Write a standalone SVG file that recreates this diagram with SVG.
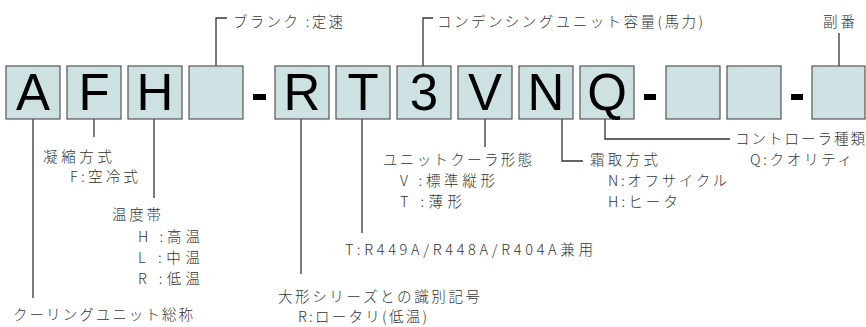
<svg xmlns="http://www.w3.org/2000/svg" width="866" height="327" viewBox="0 0 866 327">
<style>
.box{fill:#cde0e2;stroke:#555;stroke-width:1.2}
.ch{font-family:"Liberation Sans",Arial,sans-serif;font-size:51px;fill:#000;text-anchor:middle}
.t{font-family:"Noto Sans CJK JP","Noto Sans",sans-serif;font-size:14.5px;fill:#333;font-weight:300}
.ln{fill:none;stroke:#333;stroke-width:1.3}
.dash{fill:#000}
</style>
<rect width="866" height="327" fill="#fff"/>
<g id="connectors">
<path class="ln" d="M216,66V18H227"/>
<path class="ln" d="M423,66V18H433"/>
<path class="ln" d="M839,66V33"/>
<path class="ln" d="M33,119V298"/>
<path class="ln" d="M94,119V137"/>
<path class="ln" d="M154,119V198"/>
<path class="ln" d="M301,119V274"/>
<path class="ln" d="M362,119V233"/>
<path class="ln" d="M485,119V147"/>
<path class="ln" d="M562,119V161H583"/>
<path class="ln" d="M605,119V139H730"/>
</g>
<g id="dashes">
<rect class="dash" x="253" y="94" width="13" height="6"/>
<rect class="dash" x="644" y="94" width="12" height="6"/>
<rect class="dash" x="791" y="94" width="12" height="6"/>
</g>
<g id="box-A"><rect class="box" x="6" y="66" width="54" height="53"/><text class="ch" x="33" y="110">A</text></g>
<g id="box-F"><rect class="box" x="67" y="66" width="54" height="53"/><text class="ch" x="94" y="110">F</text></g>
<g id="box-H"><rect class="box" x="128" y="66" width="54" height="53"/><text class="ch" x="155" y="110">H</text></g>
<g id="box-blank1"><rect class="box" x="189" y="66" width="54" height="53"/></g>
<g id="box-R"><rect class="box" x="275" y="66" width="54" height="53"/><text class="ch" x="302" y="110">R</text></g>
<g id="box-T"><rect class="box" x="336" y="66" width="54" height="53"/><text class="ch" x="363" y="110">T</text></g>
<g id="box-3"><rect class="box" x="397" y="66" width="54" height="53"/><text class="ch" x="424" y="110">3</text></g>
<g id="box-V"><rect class="box" x="458" y="66" width="54" height="53"/><text class="ch" x="485" y="110">V</text></g>
<g id="box-N"><rect class="box" x="519" y="66" width="54" height="53"/><text class="ch" x="546" y="110">N</text></g>
<g id="box-Q"><rect class="box" x="580" y="66" width="54" height="53"/><text class="ch" x="607" y="110">Q</text></g>
<g id="box-blank2"><rect class="box" x="666" y="66" width="54" height="53"/></g>
<g id="box-blank3"><rect class="box" x="727" y="66" width="54" height="53"/></g>
<g id="box-blank4"><rect class="box" x="812" y="66" width="53" height="53"/></g>
<g id="labels">
<text class="t" x="233" y="27" textLength="110" lengthAdjust="spacing">ブランク :定速</text>
<text class="t" x="437" y="27" textLength="266" lengthAdjust="spacing">コンデンシングユニット容量(馬力)</text>
<text class="t" x="823" y="27" textLength="32" lengthAdjust="spacing">副番</text>
<text class="t" x="43" y="162" textLength="69" lengthAdjust="spacing">凝縮方式</text>
<text class="t" x="70" y="182" textLength="68" lengthAdjust="spacing">F:空冷式</text>
<text class="t" x="112" y="220" textLength="49" lengthAdjust="spacing">温度帯</text>
<text class="t" x="138" y="242" textLength="62" lengthAdjust="spacing">H :高温</text>
<text class="t" x="138" y="263" textLength="62" lengthAdjust="spacing">L :中温</text>
<text class="t" x="138" y="284" textLength="62" lengthAdjust="spacing">R :低温</text>
<text class="t" x="13" y="320" textLength="180" lengthAdjust="spacing">クーリングユニット総称</text>
<text class="t" x="383" y="165" textLength="149" lengthAdjust="spacing">ユニットクーラ形態</text>
<text class="t" x="400" y="186" textLength="95" lengthAdjust="spacing">V :標準縦形</text>
<text class="t" x="400" y="207" textLength="62" lengthAdjust="spacing">T :薄形</text>
<text class="t" x="345" y="255" textLength="248" lengthAdjust="spacing">T:R449A/R448A/R404A兼用</text>
<text class="t" x="278" y="302" textLength="202" lengthAdjust="spacing">大形シリーズとの識別記号</text>
<text class="t" x="298" y="322" textLength="129" lengthAdjust="spacing">R:ロータリ(低温)</text>
<text class="t" x="590" y="165" textLength="68" lengthAdjust="spacing">霜取方式</text>
<text class="t" x="608" y="186" textLength="119" lengthAdjust="spacing">N:オフサイクル</text>
<text class="t" x="608" y="207" textLength="70" lengthAdjust="spacing">H:ヒータ</text>
<text class="t" x="735" y="144" textLength="130" lengthAdjust="spacing">コントローラ種類</text>
<text class="t" x="750" y="165" textLength="102" lengthAdjust="spacing">Q:クオリティ</text>
</g>
</svg>
